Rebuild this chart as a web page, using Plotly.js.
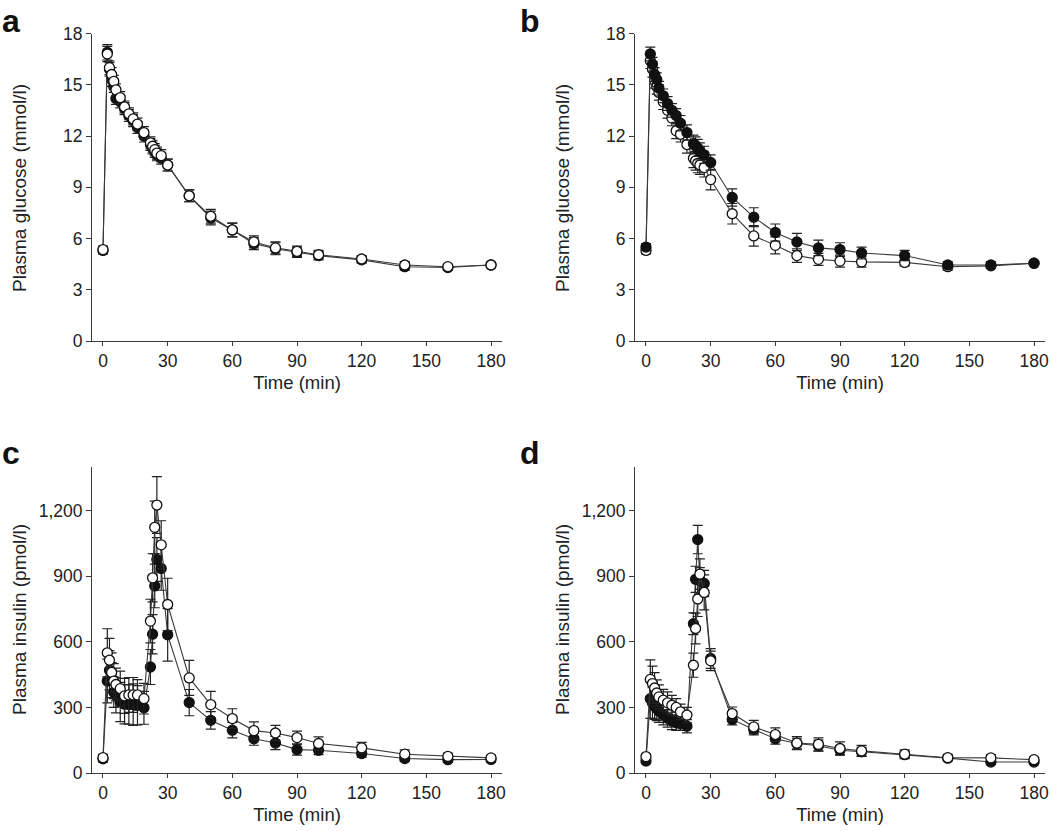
<!DOCTYPE html>
<html>
<head>
<meta charset="utf-8">
<script src="https://cdn.plot.ly/plotly-3.0.1.min.js"></script>
<style>html,body{margin:0;padding:0;background:#fff}#chart{width:1050px;height:831px}</style>
</head>
<body>
<div id="chart"></div>
<script>
// Sampling times (min)
const TIME = [0,2,3,4,5,6,8,10,12,14,16,19,22,23,24,25,27,30,40,50,60,70,80,90,100,120,140,160,180];

// Panel a – plasma glucose (mmol/l)
const glucA_filled = [5.3,16.9,15.9,15.3,14.9,14.2,14.0,13.6,13.2,12.9,12.5,12.0,11.5,11.3,11.1,10.9,10.7,10.3,8.5,7.2,6.5,5.7,5.4,5.2,5.0,4.75,4.35,4.3,4.45];
const glucA_open   = [5.35,16.8,16.0,15.6,15.2,14.7,14.25,13.7,13.3,13.0,12.7,12.2,11.6,11.4,11.2,11.0,10.85,10.3,8.5,7.3,6.5,5.8,5.45,5.25,5.05,4.8,4.45,4.35,4.45];
const glucA_err    = [0.2,0.45,0.4,0.4,0.35,0.35,0.35,0.35,0.35,0.35,0.35,0.35,0.35,0.35,0.35,0.35,0.35,0.35,0.35,0.4,0.4,0.35,0.35,0.3,0.25,0.2,0.2,0.15,0.15];

// Panel b – plasma glucose (mmol/l)
const glucB_filled = [5.5,16.8,16.2,15.6,15.3,14.8,14.35,13.9,13.5,13.2,12.75,12.2,11.55,11.45,11.3,11.1,10.9,10.45,8.4,7.25,6.35,5.8,5.45,5.35,5.15,5.0,4.45,4.45,4.55];
const glucB_open   = [5.3,16.4,15.9,15.25,14.9,14.55,14.0,13.5,13.05,12.3,12.1,11.5,10.7,10.55,10.4,10.3,10.15,9.45,7.45,6.15,5.6,5.0,4.78,4.68,4.63,4.6,4.35,4.4,4.55];
const glucB_errF   = [0.2,0.4,0.4,0.4,0.4,0.4,0.4,0.4,0.4,0.4,0.45,0.45,0.5,0.5,0.5,0.5,0.5,0.45,0.5,0.55,0.5,0.5,0.45,0.4,0.35,0.3,0.2,0.2,0.1];
const glucB_errO   = [0.2,0.45,0.45,0.45,0.45,0.45,0.45,0.45,0.45,0.45,0.45,0.5,0.55,0.55,0.55,0.55,0.55,0.6,0.6,0.6,0.5,0.4,0.35,0.35,0.3,0.2,0.2,0.15,0.1];

// Panel c – plasma insulin (pmol/l)
const insC_filled = [65,421,470,425,370,355,325,315,313,313,310,298,485,635,856,977,936,632,322,241,196,157,137,107,104,89,66,61,62];
const insC_open   = [70,550,516,460,420,405,386,353,357,357,357,340,695,893,1124,1226,1044,771,435,313,249,194,183,162,135,115,86,76,69];
const insC_errF   = [15,100,90,80,70,80,90,90,90,95,90,75,80,90,100,100,100,120,60,40,35,30,30,25,20,18,12,12,12];
const insC_errO   = [15,110,100,90,80,75,80,80,80,80,70,70,100,110,120,130,110,120,80,60,45,40,35,30,30,25,20,15,12];

// Panel d – plasma insulin (pmol/l)
const insD_filled = [55,340,320,305,295,282,265,250,238,230,225,214,683,886,1068,880,867,524,245,199,157,135,125,104,97,84,68,50,50];
const insD_open   = [75,428,409,389,366,348,333,321,310,300,280,265,493,661,796,910,826,513,272,211,176,137,131,112,101,86,70,69,61];
const insD_errF   = [12,90,70,60,55,50,45,40,40,35,30,30,50,60,65,60,60,45,25,25,25,25,25,20,20,15,12,12,10];
const insD_errO   = [12,90,80,70,60,55,50,50,45,40,35,35,55,70,80,70,80,45,30,30,30,30,30,30,25,20,15,15,12];

// Text
const panelLetters = ['a', 'b', 'c', 'd'];
const glucTitle = 'Plasma glucose (mmol/l)';
const insTitle = 'Plasma insulin (pmol/l)';
const timeTitle = 'Time (min)';

const FONT = 'Liberation Sans, Arial, Helvetica, sans-serif';
const LINE = '#3a3a3a';

function series(y, err, filled, xa, ya) {
  return {
    x: TIME, y: y, xaxis: xa, yaxis: ya, type: 'scatter', mode: 'lines+markers',
    line: {color: LINE, width: 1.1},
    marker: {size: 10, color: filled ? '#111' : '#fff', line: {color: '#111', width: 1.3}},
    error_y: {type: 'data', array: err, visible: true, color: '#222', thickness: 1.2, width: 5},
    showlegend: false, cliponaxis: false, hoverinfo: 'x+y'
  };
}

const data = [
  series(glucA_filled, glucA_err, true, 'x', 'y'),
  series(glucA_open, glucA_err, false, 'x', 'y'),
  series(glucB_open, glucB_errO, false, 'x2', 'y2'),
  series(glucB_filled, glucB_errF, true, 'x2', 'y2'),
  series(insC_filled, insC_errF, true, 'x3', 'y3'),
  series(insC_open, insC_errO, false, 'x3', 'y3'),
  series(insD_filled, insD_errF, true, 'x4', 'y4'),
  series(insD_open, insD_errO, false, 'x4', 'y4')
];

const W = 1050, H = 831;
const colL = [92/W, 502/W], colR = [635/W, 1045/W];
const rowT = [(H-341)/H, (H-33.5)/H], rowB = [(H-773)/H, (H-467)/H];

function xax(dom, anchor) {
  return {
    domain: dom, anchor: anchor, range: [-5.1, 185.1],
    tickvals: [0,30,60,90,120,150,180], ticks: 'outside', ticklen: 4, tickwidth: 1, tickcolor: LINE,
    showline: true, linecolor: LINE, linewidth: 1, showgrid: false, zeroline: false,
    tickfont: {family: FONT, size: 17.5, color: '#222'},
    title: {text: timeTitle, font: {family: FONT, size: 18.5, color: '#222'}, standoff: 6},
    automargin: false, fixedrange: true
  };
}
function yax(dom, anchor, range, tv) {
  return {
    domain: dom, anchor: anchor, range: range,
    tickvals: tv, tickformat: ',', ticks: 'outside', ticklen: 5, tickwidth: 1, tickcolor: LINE,
    showline: true, linecolor: LINE, linewidth: 1, showgrid: false, zeroline: false,
    tickfont: {family: FONT, size: 17.5, color: '#222'},
    automargin: false, fixedrange: true
  };
}

const gTicks = [0,3,6,9,12,15,18];
const iTicks = [0,300,600,900,1200];

const letterFont = {family: FONT, size: 32, color: '#111', weight: 'bold'};
function letter(t, px, py) {
  return {text: '<b>' + t + '</b>', xref: 'paper', yref: 'paper', x: px / W, y: 1 - py / H,
          xanchor: 'left', yanchor: 'middle', showarrow: false, font: letterFont};
}
function ytitle(t, px, py) {
  return {text: t, xref: 'paper', yref: 'paper', x: px / W, y: 1 - py / H, textangle: -90,
          xanchor: 'center', yanchor: 'middle', showarrow: false,
          font: {family: FONT, size: 19, color: '#222'}};
}

const layout = {
  width: W, height: H, margin: {l: 0, r: 0, t: 0, b: 0},
  paper_bgcolor: '#fff', plot_bgcolor: '#fff', showlegend: false,
  xaxis: xax(colL, 'y'), yaxis: yax(rowT, 'x', [0, 18], gTicks),
  xaxis2: xax(colR, 'y2'), yaxis2: yax(rowT, 'x2', [0, 18], gTicks),
  xaxis3: xax(colL, 'y3'), yaxis3: yax(rowB, 'x3', [0, 1400], iTicks),
  xaxis4: xax(colR, 'y4'), yaxis4: yax(rowB, 'x4', [0, 1400], iTicks),
  annotations: [
    letter(panelLetters[0], 0, 21), letter(panelLetters[1], 518, 21),
    letter(panelLetters[2], 0, 453), letter(panelLetters[3], 518, 453),
    ytitle(glucTitle, 19, 188), ytitle(glucTitle, 562, 188),
    ytitle(insTitle, 19, 620), ytitle(insTitle, 562, 620)
  ]
};

Plotly.newPlot('chart', data, layout, {displayModeBar: false, staticPlot: true});
</script>
</body>
</html>
